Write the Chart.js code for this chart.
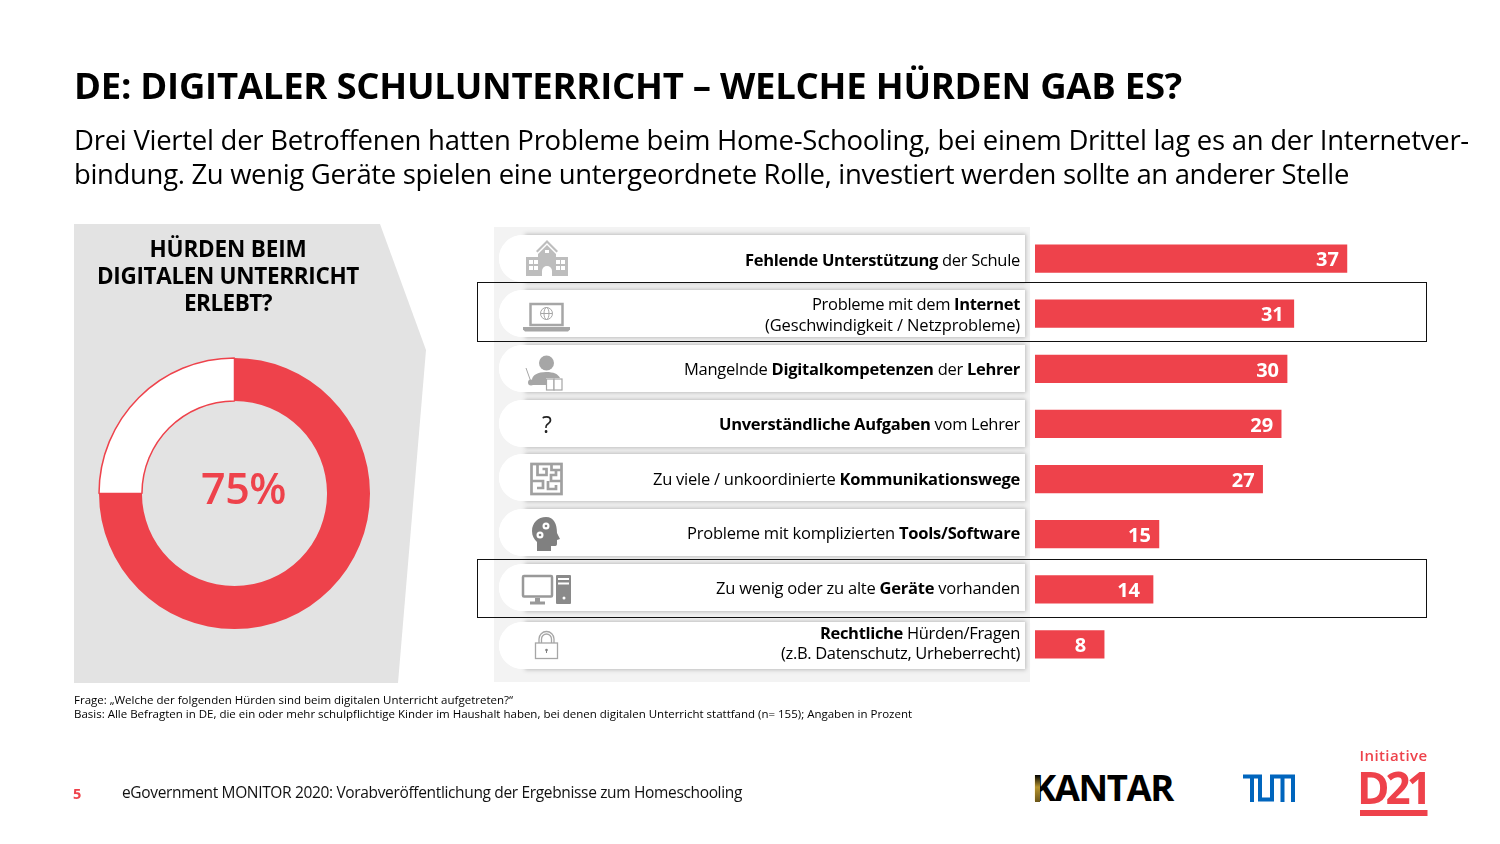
<!DOCTYPE html>
<html lang="de"><head><meta charset="utf-8"><title>Digitaler Schulunterricht</title>
<script src="https://cdn.jsdelivr.net/npm/chart.js@4"></script>
<style>
html,body{margin:0;padding:0;background:#fff;width:1500px;height:844px;overflow:hidden}
body{position:relative;font-family:"Open Sans","Noto Sans",sans-serif;color:#000}
.t{position:absolute;white-space:nowrap;line-height:1}
b{font-weight:700}
#panel{position:absolute;left:494px;top:227px;width:536px;height:455px;background:#f3f3f3}
.row{position:absolute;left:499px;width:526px;height:47px;background:#fff;border-radius:24px 0 0 24px}
.row i{position:absolute;left:27px;right:0;top:0;bottom:0;box-shadow:0 0 4px 1px #bdbdbd}
.row u{position:absolute;left:0;width:60px;top:0;bottom:0;background:#fff;border-radius:24px 0 0 24px}
.box{position:absolute;left:477px;width:948px;border:1.5px solid #111;z-index:5}
canvas{position:absolute;display:block}
svg{position:absolute;left:0;top:0}
</style></head><body>
<svg width="1500" height="844" style="z-index:0"><polygon points="74,224 380,224 426,350 398,683 74,683" fill="#e3e3e3"/></svg>
<div id="panel"></div>
<div id="rows"></div>
<canvas id="donut" width="281" height="281" style="left:94px;top:353px;width:281px;height:281px;z-index:2"></canvas>
<canvas id="bars" width="400" height="441" style="left:1035px;top:231px;width:400px;height:441px;z-index:2"></canvas>
<div class="box" style="top:282px;height:58px"></div>
<div class="box" style="top:559px;height:57px"></div>

<div class="t fit" data-w="141" style="left:1032px;top:769px;font-size:36.500px;font-weight:700;z-index:2">KANTAR</div>

<svg width="1500" height="844" style="z-index:3">
 <!-- school -->
 <g fill="#bdbdbd">
  <path d="M547 240l11 11-1.500 1.500-9.500-9.500-9.500 9.500-1.500-1.500z"/>
  <polygon points="547,245 556,254 556,257 568,257 568,276 526,276 526,257 538,257 538,254"/>
 </g>
 <g fill="#fff">
  <path d="M542 276v-5a5 5 0 0 1 10 0v5z"/>
  <rect x="545" y="250" width="4" height="3"/>
  <rect x="529" y="260" width="4" height="4"/><rect x="534" y="260" width="4" height="4"/>
  <rect x="556" y="260" width="4" height="4"/><rect x="561" y="260" width="4" height="4"/>
  <rect x="529" y="266" width="4" height="4"/><rect x="534" y="266" width="4" height="4"/>
  <rect x="556" y="266" width="4" height="4"/><rect x="561" y="266" width="4" height="4"/>
 </g>
 <!-- laptop -->
 <g fill="none" stroke="#a6a6a6"><rect x="530.500" y="304" width="32" height="21" stroke-width="2.500"/><circle cx="546.500" cy="313.500" r="6" stroke-width="1"/><ellipse cx="546.500" cy="313.500" rx="2.500" ry="6" stroke-width="1"/><path d="M540.500 313.500h12" stroke-width="1"/></g>
 <path d="M523 327h47v2.500l-2 2h-43l-2-2z" fill="#a6a6a6"/>
 <!-- teacher -->
 <g fill="#a6a6a6"><circle cx="546.500" cy="363" r="7.500"/><path d="M532 385v-5c0-5 6-8 14-8s12 2 14 6h-14v7z"/><circle cx="531" cy="382.500" r="3"/><path d="M526 368l5 14" stroke="#a6a6a6" stroke-width="1" fill="none"/></g>
 <g fill="#fff" stroke="#a6a6a6" stroke-width="1.200"><rect x="546.500" y="379" width="7.500" height="11"/><rect x="554" y="379" width="8" height="11"/></g>
 <!-- maze -->
 <g fill="none" stroke="#a0a0a0" stroke-width="2.700"><rect x="531.500" y="464" width="30" height="30"/><path d="M537.500 464v11h9v-6h-4M551.500 464v6h5M561 470h-5v5h-5v6h10M531 481h12v7h-6M548 481v8h8v-4"/></g>
 <!-- head -->
 <path d="M546 517c-8 0-14 6-14 14 0 5 2 8 5 11v9h14v-5h4c2 0 2-2 2-3v-3l3-1-3-6c0-9-3-16-11-16z" fill="#808080"/>
 <g fill="#fff"><circle cx="546" cy="526" r="3.500"/><circle cx="540" cy="535" r="3.500"/></g>
 <g fill="#808080"><circle cx="546" cy="526" r="1.300"/><circle cx="540" cy="535" r="1.300"/></g>
 <!-- computer -->
 <rect x="523" y="576" width="29" height="20.500" rx="1" fill="none" stroke="#999" stroke-width="2.500"/>
 <path d="M535 598h5v3.500h5v3h-15v-3h5z" fill="#999"/>
 <rect x="556" y="575" width="15" height="29" rx="1" fill="#8a8a8a"/><rect x="558" y="578" width="11" height="2" fill="#fff"/><rect x="558" y="582.500" width="11" height="2" fill="#fff"/><circle cx="564" cy="598" r="1.500" fill="#fff"/>
 <!-- lock -->
 <g fill="none" stroke="#a6a6a6" stroke-width="1.300"><rect x="535.500" y="643" width="22" height="15.500"/><path d="M539 643v-4a7.500 7.500 0 0 1 15 0v4M541.500 643v-4a5 5 0 0 1 10 0v4"/></g>
 <circle cx="546.500" cy="650" r="1.300" fill="#808080"/><rect x="546" y="650" width="1" height="3" fill="#808080"/>
 <!-- logos -->
 <defs><linearGradient id="gold" x1="0" x2="0" y1="0" y2="1"><stop offset="0" stop-color="#000"/><stop offset="0.45" stop-color="#b8952e"/><stop offset="1" stop-color="#6b5518"/></linearGradient></defs>
 <rect x="1035" y="775" width="5" height="27" fill="url(#gold)"/>
 <path d="M1243 776.500H1260V799.500H1272V776.500H1293V802M1252 776.500V802M1282.500 776.500V802" fill="none" stroke="#0065bd" stroke-width="4"/>
 <rect x="1360" y="810" width="67.500" height="6" fill="#ee424b"/>
</svg>

<div class="t fit" data-w="1108" style="left:74px;top:67px;font-size:36.500px;font-weight:700;z-index:4">DE: DIGITALER SCHULUNTERRICHT – WELCHE HÜRDEN GAB ES?</div>
<div class="t fit" data-w="1395" style="left:74px;top:126px;font-size:27.500px;z-index:4">Drei Viertel der Betroffenen hatten Probleme beim Home-Schooling, bei einem Drittel lag es an der Internetver-</div>
<div class="t fit" data-w="1275" style="left:74px;top:160px;font-size:27.500px;z-index:4">bindung. Zu wenig Geräte spielen eine untergeordnete Rolle, investiert werden sollte an anderer Stelle</div>

<div class="t fit c" data-w="157" data-cx="228" style="top:238px;font-size:22.500px;font-weight:700;z-index:4">HÜRDEN BEIM</div>
<div class="t fit c" data-w="262" data-cx="228" style="top:265px;font-size:22.500px;font-weight:700;z-index:4">DIGITALEN UNTERRICHT</div>
<div class="t fit c" data-w="88" data-cx="228" style="top:292px;font-size:22.500px;font-weight:700;z-index:4">ERLEBT?</div>
<div class="t fit" data-w="85" style="left:201px;top:466px;font-size:43px;font-weight:600;color:#ee424b;z-index:4">75%</div>

<div class="t" style="left:542px;top:413px;font-size:23px;color:#222;z-index:4">?</div>

<div class="t fit" data-w="439" style="left:74px;top:694px;font-size:11.500px;z-index:4">Frage: „Welche der folgenden Hürden sind beim digitalen Unterricht aufgetreten?“</div>
<div class="t fit" data-w="838" style="left:74px;top:708px;font-size:11.500px;z-index:4">Basis: Alle Befragten in DE, die ein oder mehr schulpflichtige Kinder im Haushalt haben, bei denen digitalen Unterricht stattfand (n= 155); Angaben in Prozent</div>
<div class="t" style="left:73px;top:787px;font-size:14.500px;font-weight:700;color:#ee424b;z-index:4">5</div>
<div class="t fit" data-w="620" style="left:122px;top:785px;font-size:15.500px;color:#111;z-index:4">eGovernment MONITOR 2020: Vorabveröffentlichung der Ergebnisse zum Homeschooling</div>
<div class="t fit" data-w="68" style="left:1359.500px;top:748px;font-size:15px;font-weight:600;color:#ee424b;z-index:4">Initiative</div>
<div class="t fit" data-w="71" style="left:1357px;top:765px;font-size:44px;font-weight:700;color:#ee424b;z-index:4">D21</div>

<script>
const RED = "#ee424b";
const categories = [
  "Fehlende Unterstützung der Schule",
  "Probleme mit dem Internet (Geschwindigkeit / Netzprobleme)",
  "Mangelnde Digitalkompetenzen der Lehrer",
  "Unverständliche Aufgaben vom Lehrer",
  "Zu viele / unkoordinierte Kommunikationswege",
  "Probleme mit komplizierten Tools/Software",
  "Zu wenig oder zu alte Geräte vorhanden",
  "Rechtliche Hürden/Fragen (z.B. Datenschutz, Urheberrecht)"
];
const values = [37, 30.7, 29.9, 29.2, 27, 14.7, 14, 8.2];
const donutLabels = ["Hürden erlebt", "Keine Hürden"];
const donutValues = [75, 25];
const rowLines = [
  [["<b>Fehlende Unterstützung</b> der Schule", 275]],
  [["Probleme mit dem <b>Internet</b>", 208], ["(Geschwindigkeit / Netzprobleme)", 255]],
  [["Mangelnde <b>Digitalkompetenzen</b> der <b>Lehrer</b>", 336]],
  [["<b>Unverständliche Aufgaben</b> vom Lehrer", 301]],
  [["Zu viele / unkoordinierte <b>Kommunikationswege</b>", 367]],
  [["Probleme mit komplizierten <b>Tools/Software</b>", 333]],
  [["Zu wenig oder zu alte <b>Geräte</b> vorhanden", 304]],
  [["<b>Rechtliche</b> Hürden/Fragen", 200], ["(z.B. Datenschutz, Urheberrecht)", 239]]
];
const rowTops = [235, 290, 345, 400, 454, 509, 564, 622];
const rowMids = [260, 314.5, 369, 424, 479, 533, 588, 643];
const host = document.getElementById("rows");
rowLines.forEach((lines, i) => {
  host.insertAdjacentHTML("beforeend", `<div class="row" style="top:${rowTops[i]}px"><i></i><u></u></div>`);
  lines.forEach((l, j) => {
    const y = lines.length === 1 ? rowMids[i] - 8 : rowMids[i] - 18.5 + j * 20.5;
    document.body.insertAdjacentHTML("beforeend",
      `<div class="t fit" data-w="${l[1]}" style="right:480px;top:${y}px;font-size:16.5px;z-index:4">${l[0]}</div>`);
  });
});
document.querySelectorAll(".fit").forEach(el => {
  const target = +el.dataset.w;
  const n = el.textContent.length;
  const w = el.getBoundingClientRect().width;
  el.style.letterSpacing = ((target - w) / n).toFixed(3) + "px";
  if (el.dataset.cx) el.style.left = (+el.dataset.cx - target / 2) + "px";
});

const labelInsets = [8, 10, 8, 8, 8, 8, 13, 18];
const valueLabels = {
  id: "valueLabels",
  afterDatasetsDraw(chart) {
    const { ctx } = chart;
    ctx.save();
    ctx.font = '700 20px "Open Sans"';
    ctx.fillStyle = "#fff";
    ctx.textAlign = "right";
    ctx.textBaseline = "middle";
    chart.getDatasetMeta(0).data.forEach((bar, i) =>
      ctx.fillText(Math.round(values[i]), bar.x - labelInsets[i], bar.y + 2));
    ctx.restore();
  }
};
new Chart(document.getElementById("bars"), {
  type: "bar",
  data: { labels: categories, datasets: [{ data: values, backgroundColor: RED, barThickness: 27.5 }] },
  options: {
    indexAxis: "y", responsive: false, animation: false,
    layout: { padding: 0 },
    plugins: { legend: { display: false }, tooltip: { enabled: false } },
    scales: {
      x: { display: false, min: 0, max: 47.45 },
      y: { display: false }
    }
  },
  plugins: [valueLabels]
});
new Chart(document.getElementById("donut"), {
  type: "doughnut",
  data: { labels: donutLabels, datasets: [{ data: donutValues, backgroundColor: [RED, "#fff"], borderColor: [RED, RED], borderWidth: [0, 1.5] }] },
  options: {
    responsive: false, animation: false, radius: 135.5, cutout: "68.3%",
    plugins: { legend: { display: false }, tooltip: { enabled: false } }
  }
});
</script>
</body></html>
